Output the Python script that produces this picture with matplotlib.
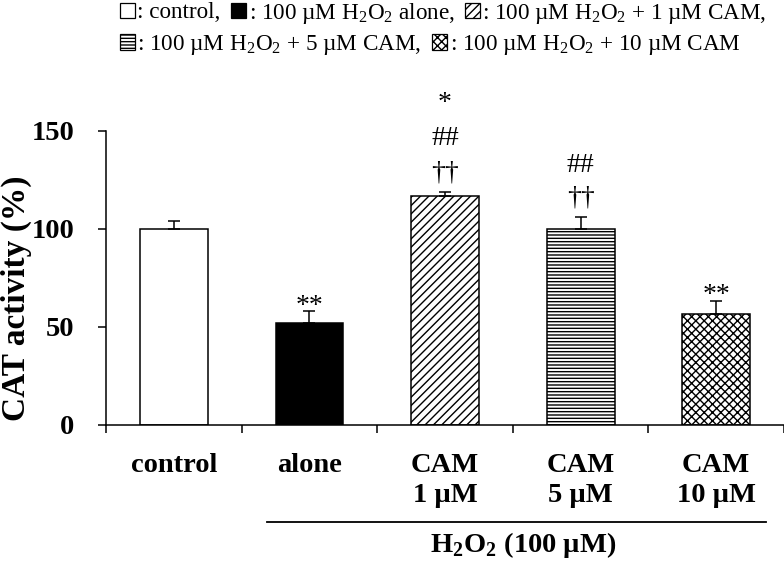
import matplotlib
matplotlib.use("Agg")
import matplotlib.pyplot as plt
from matplotlib.patches import Rectangle
import numpy as np

plt.rcParams['font.family'] = ['Liberation Serif', 'DejaVu Serif']
plt.rcParams['mathtext.fontset'] = 'custom'
plt.rcParams['mathtext.rm'] = 'Liberation Serif'
plt.rcParams['mathtext.bf'] = 'Liberation Serif:bold'
plt.rcParams['hatch.linewidth'] = 1.0

# data
groups = ['control', 'alone', 'CAM\n1 µM', 'CAM\n5 µM', 'CAM\n10 µM']
values = [100.0, 52.0, 117.0, 100.0, 56.8]
errors = [3.9, 6.0, 2.0, 6.1, 6.5]
hatches = ['', '', '////', '-----', 'xxxx']
faces = ['white', 'black', 'white', 'white', 'white']
marks = [[], ['**'], ['*', '##', '††'], ['##', '††'], ['**']]
mark_y = [[], [57.0], [160.7, 142.8, 125.5], [129.2, 112.7], [62.8]]
legend_rows = [
    [': control,', ': 100 µM H$_2$O$_2$ alone,', ': 100 µM H$_2$O$_2$ + 1 µM CAM,'],
    [': 100 µM H$_2$O$_2$ + 5 µM CAM,', ': 100 µM H$_2$O$_2$ + 10 µM CAM'],
]

fig = plt.figure(figsize=(7.84, 5.63), dpi=100)
ax = fig.add_axes([106/784, 1-425/563, 678/784, 294/563])

x = np.arange(len(groups))
bars = ax.bar(x, values, width=0.5, color=faces, edgecolor='black', linewidth=1.1,
              hatch=hatches, zorder=2)
ax.errorbar(x, values, yerr=[np.zeros(len(values)), errors], fmt='none',
            ecolor='black', elinewidth=1.1, capsize=4, capthick=1.1, zorder=3)

for i in range(len(groups)):
    for m, yy in zip(marks[i], mark_y[i]):
        ax.text(x[i], yy, m, ha='center', va='baseline', fontsize=20, clip_on=False)

ax.set_xlim(-0.5, 4.5)
ax.set_ylim(0, 150)
ax.set_yticks([0, 50, 100, 150])
ax.tick_params(axis='y', direction='out', length=5.8, width=1.1, pad=17, labelsize=20.5)
for t in ax.get_yticklabels():
    t.set_fontweight('bold')

ax.set_xticks(x)
ax.set_xticklabels(groups, fontsize=20.5, fontweight='bold', linespacing=1.25)
ax.set_xticks(np.arange(-0.5, 5, 1), minor=True)
ax.tick_params(axis='x', which='major', length=0, pad=20)
ax.tick_params(axis='x', which='minor', direction='out', length=5.8, width=1.1)

ax.spines['top'].set_visible(False)
ax.spines['right'].set_visible(False)
ax.spines['left'].set_linewidth(1.1)
ax.spines['bottom'].set_linewidth(1.1)

ax.set_ylabel('CAT activity (%)', fontsize=24, fontweight='bold')
ax.yaxis.set_label_coords(-0.109, 0.432)

# H2O2 group bracket
trans = ax.get_xaxis_transform()
ax.plot([0.69, 4.37], [-0.33, -0.33], color='black', linewidth=1.3,
        transform=trans, clip_on=False)
ax.text(2.58, -0.432, r'$\mathbf{H}_\mathbf{2}\mathbf{O}_\mathbf{2}$ (100 µM)',
        transform=trans, ha='center', va='baseline', fontsize=20.5, fontweight='bold')

# legend rows at top
k = 0
row_y = [1 - 13/563, 1 - 45/563]
for r, labels in enumerate(legend_rows):
    handles = []
    for lab in labels:
        handles.append(Rectangle((0, 0), 1, 1, facecolor=faces[k], edgecolor='black',
                                 hatch=hatches[k], linewidth=0.9))
        k += 1
    fig.legend(handles, labels, loc='center left', bbox_to_anchor=(120/784, row_y[r]),
               ncol=len(labels), frameon=False, fontsize=16.7, handlelength=0.65,
               handleheight=0.65, handletextpad=0.1, columnspacing=0.45, borderpad=0,
               borderaxespad=0)

fig.savefig('out.png', dpi=100)
